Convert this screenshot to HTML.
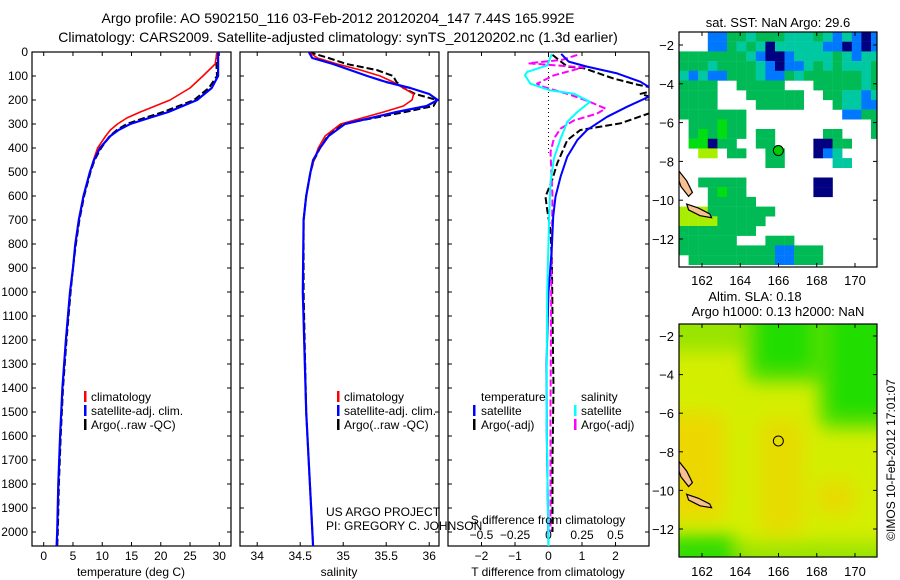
<!DOCTYPE html>
<html><head><meta charset="utf-8"><style>
html,body{margin:0;padding:0;background:#fff;}
svg{display:block;font-family:"Liberation Sans",sans-serif;}
</style></head><body>
<svg id="chart" width="900" height="580" viewBox="0 0 900 580" xmlns="http://www.w3.org/2000/svg">
<defs>
<clipPath id="c1"><rect x="32" y="52" width="199" height="494"/></clipPath>
<clipPath id="c2"><rect x="240" y="52" width="199" height="494"/></clipPath>
<clipPath id="c3"><rect x="448" y="52" width="201" height="494"/></clipPath>
<clipPath id="cm1"><rect x="679" y="32" width="198" height="235"/></clipPath>
<clipPath id="cm2"><rect x="679" y="324" width="198" height="233"/></clipPath>
<filter id="blur" x="-30%" y="-30%" width="160%" height="160%"><feGaussianBlur stdDeviation="9"/></filter>
</defs>
<g font-size="14" text-anchor="middle" fill="#000">
<text x="338" y="23">Argo profile: AO 5902150_116 03-Feb-2012 20120204_147 7.44S 165.992E</text>
<text x="338" y="42">Climatology: CARS2009. Satellite-adjusted climatology: synTS_20120202.nc (1.3d earlier)</text>
</g>
<g id="plots"></g>
<g id="maps"></g>
<g font-size="12">
<rect x="84" y="391" width="2.5" height="11" fill="#f00"/><text x="91" y="401">climatology</text>
<rect x="84" y="405" width="2.5" height="11" fill="#00f"/><text x="91" y="415">satellite-adj. clim.</text>
<rect x="84" y="419" width="2.5" height="11" fill="#000"/><text x="91" y="429">Argo(..raw -QC)</text>
</g>
<g font-size="12">
<rect x="337" y="391" width="2.5" height="11" fill="#f00"/><text x="344" y="401">climatology</text>
<rect x="337" y="405" width="2.5" height="11" fill="#00f"/><text x="344" y="415">satellite-adj. clim.</text>
<rect x="337" y="419" width="2.5" height="11" fill="#000"/><text x="344" y="429">Argo(..raw -QC)</text>
</g>
<g font-size="12">
<text x="481" y="401">temperature</text>
<rect x="473" y="405" width="2.5" height="11" fill="#00f"/><text x="481" y="415">satellite</text>
<rect x="473" y="419" width="2.5" height="11" fill="#000"/><text x="481" y="429">Argo(-adj)</text>
<text x="581" y="401">salinity</text>
<rect x="574" y="405" width="2.5" height="11" fill="#0ff"/><text x="581" y="415">satellite</text>
<rect x="574" y="419" width="2.5" height="11" fill="#f0f"/><text x="581" y="429">Argo(-adj)</text>
</g>
<g font-size="12">
<text x="326" y="516">US ARGO PROJECT</text>
<text x="326" y="530">PI: GREGORY C. JOHNSON</text>
</g>
<g font-size="12" text-anchor="middle">
<text x="131" y="576">temperature (deg C)</text>
<text x="339" y="576">salinity</text>
<text x="548" y="576">T difference from climatology</text>
<text x="548" y="524">S difference from climatology</text>
</g>
<g font-size="13" text-anchor="middle">
<text x="778" y="27">sat. SST: NaN Argo: 29.6</text>
<text x="755" y="301">Altim. SLA: 0.18</text>
<text x="778" y="316">Argo h1000: 0.13 h2000: NaN</text>
</g>
<text font-size="12" text-anchor="middle" transform="translate(895,460) rotate(-90)">©IMOS 10-Feb-2012 17:01:07</text>
</svg>
<script>
// ---- profile data ----
const tDepth = [0,50,100,150,200,250,275,300,325,350,400,450,500,600,700,800,900,1000,1200,1400,1600,1800,2000,2060];
const tClim = [29.6,29.3,27.2,25.0,21.6,16.5,14.2,12.6,11.4,10.6,9.2,8.5,7.9,6.8,6.0,5.4,5.0,4.5,3.8,3.2,2.8,2.5,2.3,2.2];
const tSat  = [29.8,29.8,29.8,28.7,26.2,21.3,18.0,14.8,12.8,11.4,9.6,8.6,7.9,6.8,6.0,5.4,5.0,4.5,3.8,3.2,2.8,2.5,2.3,2.2];
const tArgo = [29.6,29.5,29.6,28.2,25.7,20.4,17.2,14.2,12.5,11.3,9.8,8.7,8.0,6.9,6.1,5.5,5.0,4.6,3.9,3.3,2.9,2.6,2.4,2.3];
const sDepth = [0,25,50,75,100,125,150,175,200,225,250,300,350,400,450,500,600,700,1000,1500,2060];
const sClim = [34.6,34.7,34.93,35.2,35.43,35.58,35.7,35.82,35.8,35.7,35.47,34.97,34.79,34.71,34.66,34.62,34.57,34.54,34.53,34.57,34.65];
const sSat  = [34.6,34.64,34.88,35.08,35.28,35.5,35.78,36.0,36.1,35.97,35.62,35.02,34.83,34.73,34.65,34.62,34.57,34.54,34.53,34.57,34.65];
const sArgo = [34.6,34.83,35.04,35.39,35.58,35.62,35.7,35.84,36.09,36.05,35.72,34.99,34.82,34.73,34.66,34.62,34.57,34.54,34.54,34.57,34.65];
const dTSatDepth = [8,40,61,89,124,146,165,186,228,270,325,367,436,519,603,686,811,1000,1300,1600,2060];
const dTSat = [0.38,0.6,1.15,2.05,2.75,3.0,3.2,3.0,2.35,1.75,1.15,0.86,0.56,0.36,0.21,0.14,0.1,0.0,-0.06,-0.05,0.0];
const dTArgoDepth = [12,61,68,111,136,146,160,174,186,220,256,297,325,367,464,533,603,658,742,880,1100,1400,1700,2000];
const dTArgo = [0.12,0.56,1.06,1.95,2.65,3.0,3.2,2.75,3.0,3.3,3.0,2.15,0.95,0.56,0.26,0.11,-0.09,-0.04,0.06,0.1,0.12,0.15,0.12,0.12];
const dSSatDepth = [8,56,83,97,132,160,174,208,250,291,361,444,542,681,1000,1500,2060];
const dSSat = [0.025,-0.01,-0.16,-0.175,-0.135,0.015,0.19,0.31,0.215,0.14,0.09,0.04,0.015,0.005,-0.01,-0.015,0.0];
const dSArgoDepth = [12,33,47,64,97,132,146,174,208,236,257,285,319,361,417,603,1000,1500,2000];
const dSArgo = [0.215,0.1,-0.15,0.26,0.04,-0.085,-0.035,0.14,0.31,0.425,0.36,0.19,0.09,0.04,0.015,0.03,0.02,0.015,0.015];
const depthTicks = [0,100,200,300,400,500,600,700,800,900,1000,1100,1200,1300,1400,1500,1600,1700,1800,1900,2000];
const tTicks = [0,5,10,15,20,25,30];
const sTicks = [34,34.5,35,35.5,36];
const dTTicks = [-2,-1,0,1,2];
const dSTicks = [-0.5,-0.25,0,0.25,0.5];
const sTickLabels = ['\u22120.5','\u22120.25','0','0.25','0.5'];
// ---- map data ----
const sstRows = [
"...bbggcgggcccgcbcbnb","...bbgcgcncccccbbnbnb","gggggggcbnnbccccgcbcc","gggcggggcbnbbcgcgcccg",
"cbcbbgggcbbgcggggggcg","gggg..ggggg...gggggcg","gggg...gggggg..ggccbc","gggg....ggggg...gccbb",
"ggggggg..........bbgg",".gggGgg.............g",".gGgGgg.gg.....gg...g",".GGngg..gg....nngg...",
"..yy.gg..gg...nbc....",".........gg.....cc...",".....................","..ggggg.......nn.....",
"...gGgg.......nn.....","...ggggg.............","yyyggggggg...........","yyyyggggg............",
"gggggggg.............","gggggg...ggg.........","ggggggggggbbggg......",".gggggggggbbggg......"];
const lonTicks = [162,164,166,168,170];
const latTicks = [-2,-4,-6,-8,-10,-12];
const argoLon = 165.992, argoLat = -7.44;

const NS = 'http://www.w3.org/2000/svg';
function mk(tag, attrs, parent){ const e=document.createElementNS(NS,tag); for(const k in attrs) e.setAttribute(k,attrs[k]); parent.appendChild(e); return e; }
const plots = document.getElementById('plots');
const maps = document.getElementById('maps');
const dy = d => 52 + d*0.24;
const tx = t => 32 + (t+2)*199/34;
const sx = s => 240 + (s-33.8)*86;
const dxT = t => 448 + (t+3)*201/6;
const dxS = s => dxT(s*4);

function panel(x0, w, name){
  const r = mk('rect',{x:x0,y:52,width:w,height:494,fill:'none',stroke:'#000','stroke-width':1.2},plots);
  
  
  depthTicks.forEach(d=>{
    const y=dy(d);
    mk('line',{x1:x0,x2:x0+4,y1:y,y2:y,stroke:'#000'},plots);
    mk('line',{x1:x0+w-4,x2:x0+w,y1:y,y2:y,stroke:'#000'},plots);
  });
}
function xticks(vals, f, labels, ly){
  vals.forEach((v,i)=>{
    const x=f(v);
    mk('line',{x1:x,x2:x,y1:52,y2:56,stroke:'#000'},plots);
    mk('line',{x1:x,x2:x,y1:542,y2:546,stroke:'#000'},plots);
    if(labels){ const t=mk('text',{x:x,y:ly,'font-size':12,'text-anchor':'middle'},plots); t.textContent=labels[i];
      
       }
  });
}
function line(ds, vs, fx, color, w, dash, clip, name){
  const p = ds.map((d,i)=>(i?'L':'M')+fx(vs[i]).toFixed(1)+','+dy(d).toFixed(1)).join('');
  const a={d:p,fill:'none',stroke:color,'stroke-width':w,'clip-path':'url(#'+clip+')','stroke-linejoin':'round'};
  if(dash) a['stroke-dasharray']=dash;
  const e=mk('path',a,plots);
  
  
}
panel(32,199,'temperature-panel'); panel(240,199,'salinity-panel'); panel(448,201,'difference-panel');
depthTicks.forEach(d=>{ const t=mk('text',{x:28,y:dy(d)+4,'font-size':12,'text-anchor':'end'},plots); t.textContent=d;
  
   });
xticks(tTicks, tx, tTicks.map(String), 560);
xticks(sTicks, sx, sTicks.map(String), 560);
xticks(dTTicks, dxT, dTTicks.map(v=>v<0?'\u2212'+(-v):String(v)), 560);
dSTicks.forEach((v,i)=>{ const t=mk('text',{x:dxS(v),y:539,'font-size':12,'text-anchor':'middle'},plots); t.textContent=sTickLabels[i];
  
   });
line(tDepth,tArgo,tx,'#000',2,'7 3','c1','temp-argo-line');
line(tDepth,tClim,tx,'#f00',1.6,null,'c1','temp-climatology-line');
line(tDepth,tSat,tx,'#00f',2.2,null,'c1','temp-satellite-line');
line(sDepth,sArgo,sx,'#000',2,'7 3','c2','sal-argo-line');
line(sDepth,sClim,sx,'#f00',1.6,null,'c2','sal-climatology-line');
line(sDepth,sSat,sx,'#00f',2.2,null,'c2','sal-satellite-line');
const z=mk('line',{x1:dxT(0),x2:dxT(0),y1:dy(0),y2:dy(420),stroke:'#000','stroke-dasharray':'1 3'},plots);


line(dTArgoDepth,dTArgo,dxT,'#000',2,'7 3','c3','tdiff-argo-line');
line(dSArgoDepth,dSArgo,dxS,'#f0f',2,'7 3','c3','sdiff-argo-line');
line(dTSatDepth,dTSat,dxT,'#00f',2,null,'c3','tdiff-satellite-line');
line(dSSatDepth,dSSat,dxS,'#0ff',2,null,'c3','sdiff-satellite-line');

// ---- maps ----
const lonX = lon => 702 + (lon-162)*19.125;
const lat1 = lat => 45 + (-2-lat)*19.4;
const lat2 = lat => 336 + (-2-lat)*19.3;
const col = {g:'#00bb55',G:'#00dd11',c:'#00c8a0',b:'#0077ff',n:'#000080',y:'#a8ee00'};
const g1 = mk('g',{'clip-path':'url(#cm1)'},maps);


sstRows.forEach((row,r)=>{ for(let k=0;k<row.length;k++){ const ch=row[k]; if(ch==='.') continue;
  const c=mk('rect',{x:679+k*9.6,y:32+r*9.7,width:9.8,height:9.9,fill:col[ch]},g1);
  
   }});
function land(g, fy){
  const pts1=[[160.8,-8.5],[161.2,-9.0],[161.5,-9.6],[161.3,-9.8],[160.9,-9.3],[160.8,-9.0]];
  const pts2=[[161.2,-10.2],[161.8,-10.4],[162.4,-10.7],[162.5,-10.9],[161.9,-10.8],[161.3,-10.5]];
  [pts1,pts2].forEach(p=>{ const e=mk('polygon',{points:p.map(q=>lonX(q[0])+','+fy(q[1])).join(' '),fill:'#f8c090',stroke:'#000','stroke-width':1.2},g);
    
     });
}
land(g1, lat1);
const m1=mk('circle',{cx:lonX(argoLon),cy:lat1(argoLat),r:5,fill:'#00cc00',stroke:'#000'},g1);


const g2 = mk('g',{'clip-path':'url(#cm2)'},maps);


mk('rect',{x:679,y:324,width:198,height:233,fill:'#d4ee00'},g2);
const bl = mk('g',{filter:'url(#blur)'},g2);
function blob(l0,l1,a0,a1,c){ mk('rect',{x:lonX(l0),y:lat2(a0),width:lonX(l1)-lonX(l0),height:lat2(a1)-lat2(a0),fill:c,rx:10},bl); }
blob(159,173,0,-2.8,'#99e400');
blob(164.3,168.3,0,-4.4,'#55e000');
blob(164.8,167.8,0,-3.8,'#22dd00');
blob(168.1,173,0,-6.8,'#55e000');
blob(168.6,173,0,-6.2,'#22dd00');
blob(159,163.2,-6,-11.5,'#ecd800');
blob(165,167.3,-6.3,-12.3,'#e6dc00');
blob(168,170,-9.5,-11.2,'#e8da00');
blob(159,173,-12.7,-15,'#99e400');
blob(160,163.8,-12.3,-15,'#33dd00');
land(g2, lat2);
const m2=mk('circle',{cx:lonX(argoLon),cy:lat2(argoLat),r:5,fill:'none',stroke:'#000'},g2);


function mapAxes(top,h,fy,lly){
  const f=mk('rect',{x:679,y:top,width:198,height:h,fill:'none',stroke:'#000','stroke-width':1.2},maps);
  
  
  lonTicks.forEach(l=>{ const x=lonX(l);
    mk('line',{x1:x,x2:x,y1:top,y2:top+4,stroke:'#000'},maps);
    mk('line',{x1:x,x2:x,y1:top+h-4,y2:top+h,stroke:'#000'},maps);
    const t=mk('text',{x:x,y:lly,'font-size':13,'text-anchor':'middle'},maps); t.textContent=l;
    
     });
  latTicks.forEach(a=>{ const y=fy(a);
    mk('line',{x1:679,x2:683,y1:y,y2:y,stroke:'#000'},maps);
    mk('line',{x1:873,x2:877,y1:y,y2:y,stroke:'#000'},maps);
    const t=mk('text',{x:674,y:y+5,'font-size':13,'text-anchor':'end'},maps); t.textContent='\u2212'+(-a);
    
     });
}
mapAxes(32,235,lat1,285);
mapAxes(324,233,lat2,576);
</script>
</body></html>
